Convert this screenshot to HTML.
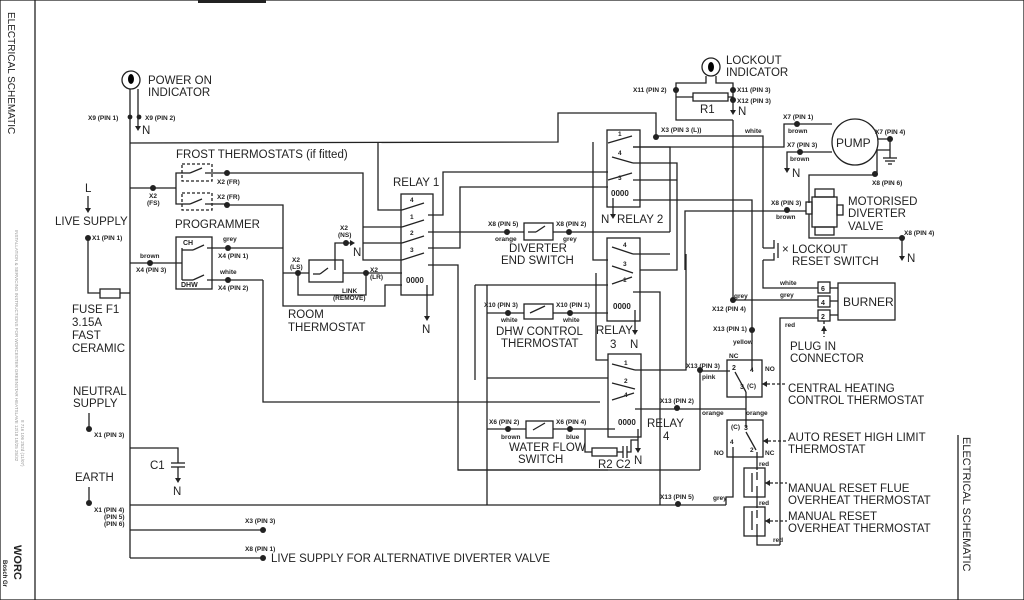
<!DOCTYPE html>
<html><head><meta charset="utf-8"><style>
html,body{margin:0;padding:0;background:#fff;}
svg{display:block;font-family:"Liberation Sans",sans-serif;}
.t{font-size:11.5px;fill:#222;}
.s{font-size:6.5px;fill:#222;font-weight:bold;}
line,polyline,rect,circle,path{stroke:#222;stroke-width:1.3;fill:none;}
.d{fill:#222;stroke:none;}
.dash{stroke-dasharray:3,2;}
</style></head><body>
<svg width="1024" height="600" viewBox="0 0 1024 600">
<rect x="0" y="0" width="1024" height="600" fill="#fff" stroke="none"/>
<line x1="35" y1="0" x2="35" y2="600"/>
<text class="t" transform="translate(8,12) rotate(90)" style="font-size:10px">ELECTRICAL SCHEMATIC</text>
<text transform="translate(15,230) rotate(90)" style="font-size:4.5px;fill:#999">INSTALLATION &amp; SERVICING INSTRUCTIONS FOR WORCESTER GREENSTAR HEATSLAVE 12/18 18/25 25/32</text>
<text transform="translate(21,420) rotate(90)" style="font-size:4.5px;fill:#999">8 716 106 252d (11/07)</text>
<text transform="translate(14,545) rotate(90)" style="font-size:11px;font-weight:bold;fill:#222">WORC</text>
<text transform="translate(3,560) rotate(90)" style="font-size:6px;font-weight:bold;fill:#222">Bosch Gr</text>
<rect x="198" y="0" width="68" height="3" class="d"/>
<line x1="958" y1="435" x2="958" y2="600"/>
<text class="t" transform="translate(963,437) rotate(90)" style="font-size:11px">ELECTRICAL SCHEMATIC</text>

<circle cx="131" cy="80" r="9"/><ellipse cx="131" cy="79" rx="3" ry="5"/>
<text class="t" x="148" y="84">POWER ON</text><text class="t" x="148" y="96">INDICATOR</text>
<line x1="130" y1="89" x2="130" y2="558"/>
<line x1="138" y1="89" x2="138" y2="128"/><path d="M135,126 L141,126 L138,131Z" class="d"/>
<text class="t" x="142" y="134">N</text>
<circle cx="130" cy="117" r="2.4" class="d"/><circle cx="139" cy="117" r="2.4" class="d"/>
<text class="s" x="88" y="120">X9 (PIN 1)</text><text class="s" x="145" y="120">X9 (PIN 2)</text>

<polyline points="130,143 558,142 558,113 656,113 656,137"/>
<circle cx="656" cy="137" r="3" class="d"/>
<text class="s" x="661" y="132">X3 (PIN 3 (L))</text>
<polyline points="656,136 763,136 763,248"/>
<text class="s" x="745" y="133">white</text>
<polyline points="378,143 378,210 402,210"/>

<text class="t" x="85" y="192">L</text>
<line x1="88" y1="196" x2="88" y2="210"/><path d="M85,208 L91,208 L88,213Z" class="d"/>
<text class="t" x="55" y="225">LIVE SUPPLY</text>
<circle cx="88" cy="238" r="3" class="d"/><text class="s" x="92" y="240">X1 (PIN 1)</text>
<polyline points="88,238 88,293 100,293"/>
<rect x="100" y="289" width="20" height="9"/><line x1="120" y1="293" x2="130" y2="293"/>
<text class="t" x="72" y="313">FUSE F1</text><text class="t" x="72" y="326">3.15A</text>
<text class="t" x="72" y="339">FAST</text><text class="t" x="72" y="352">CERAMIC</text>
<text class="t" x="73" y="395">NEUTRAL</text><text class="t" x="73" y="407">SUPPLY</text>
<line x1="89" y1="413" x2="89" y2="428"/><circle cx="89" cy="429" r="3" class="d"/>
<text class="s" x="94" y="437">X1 (PIN 3)</text>
<text class="t" x="75" y="481">EARTH</text>
<line x1="89" y1="487" x2="89" y2="502"/><circle cx="89" cy="503" r="3" class="d"/>
<text class="s" x="94" y="512">X1 (PIN 4)</text><text class="s" x="104" y="519">(PIN 5)</text><text class="s" x="104" y="526">(PIN 6)</text>

<polyline points="130,448 178,448 178,463"/>
<line x1="171" y1="463" x2="185" y2="463"/><line x1="171" y1="467" x2="185" y2="467"/>
<line x1="178" y1="467" x2="178" y2="480"/><path d="M175,478 L181,478 L178,483Z" class="d"/>
<text class="t" x="150" y="469">C1</text><text class="t" x="173" y="495">N</text>

<line x1="130" y1="505" x2="726" y2="505"/>
<line x1="130" y1="530" x2="263" y2="530"/><circle cx="263" cy="530" r="3" class="d"/>
<text class="s" x="245" y="523">X3 (PIN 3)</text>
<line x1="130" y1="558" x2="263" y2="558"/><circle cx="263" cy="558" r="3" class="d"/>
<text class="s" x="245" y="551">X8 (PIN 1)</text>
<text class="t" x="271" y="562">LIVE SUPPLY FOR ALTERNATIVE DIVERTER VALVE</text>

<text class="t" x="176" y="158">FROST THERMOSTATS (if fitted)</text>
<polyline points="130,188 176,188"/><circle cx="153" cy="188" r="3" class="d"/>
<text class="s" x="149" y="198">X2</text><text class="s" x="147" y="205">(FS)</text>
<polyline points="182,173 176,173 176,204 182,204"/>
<rect x="182" y="164" width="30" height="17" class="dash"/>
<rect x="182" y="193" width="30" height="17" class="dash"/>
<line x1="182" y1="173" x2="190" y2="173"/><line x1="190" y1="173" x2="202" y2="168"/><line x1="205" y1="173" x2="228" y2="173"/>
<line x1="182" y1="204" x2="190" y2="204"/><line x1="190" y1="204" x2="202" y2="199"/><line x1="205" y1="204" x2="228" y2="204"/>
<circle cx="227" cy="173" r="3" class="d"/><circle cx="227" cy="205" r="3" class="d"/>
<text class="s" x="217" y="184">X2 (FR)</text><text class="s" x="217" y="199">X2 (FR)</text>
<polyline points="227,173 363,173 363,260 402,260"/>
<line x1="363" y1="227" x2="402" y2="227"/><line x1="363" y1="243" x2="402" y2="243"/>
<polyline points="227,205 283,205 283,306 385,306 385,285 402,285"/>

<text class="t" x="175" y="228">PROGRAMMER</text>
<rect x="176" y="237" width="36" height="52"/>
<text class="s" x="183" y="245" style="font-size:7px">CH</text><text class="s" x="181" y="287" style="font-size:7px">DHW</text>
<line x1="130" y1="263" x2="182" y2="263"/><circle cx="150" cy="263" r="3" class="d"/>
<text class="s" x="140" y="258">brown</text><text class="s" x="136" y="272">X4 (PIN 3)</text>
<polyline points="182,248 182,280"/>
<line x1="182" y1="250" x2="193" y2="250"/><line x1="193" y1="250" x2="204" y2="245"/><line x1="207" y1="248" x2="283" y2="248"/>
<line x1="182" y1="280" x2="193" y2="280"/><line x1="193" y1="280" x2="204" y2="275"/><line x1="207" y1="280" x2="263" y2="280"/>
<circle cx="228" cy="248" r="3" class="d"/><circle cx="228" cy="280" r="3" class="d"/>
<text class="s" x="223" y="241">grey</text><text class="s" x="218" y="258">X4 (PIN 1)</text>
<text class="s" x="220" y="274">white</text><text class="s" x="218" y="290">X4 (PIN 2)</text>
<polyline points="263,280 263,402 600,402"/>

<line x1="283" y1="273" x2="309" y2="273"/>
<rect x="309" y="260" width="34" height="22"/>
<line x1="313" y1="274" x2="320" y2="274"/><line x1="320" y1="274" x2="328" y2="268"/>
<circle cx="298" cy="273" r="3" class="d"/><circle cx="366" cy="273" r="3" class="d"/>
<line x1="343" y1="273" x2="402" y2="273"/>
<polyline points="335,270 335,243 350,243"/><path d="M350,240 L355,243 L350,246Z" class="d"/>
<circle cx="346" cy="243" r="3" class="d"/>
<text class="s" x="340" y="230">X2</text><text class="s" x="338" y="237">(NS)</text><text class="t" x="353" y="256">N</text>
<text class="s" x="292" y="262">X2</text><text class="s" x="290" y="269">(LS)</text>
<text class="s" x="370" y="272">X2</text><text class="s" x="370" y="279">(LR)</text>
<polyline points="298,273 298,295 366,295 366,273"/>
<text class="s" x="342" y="293">LINK</text><text class="s" x="333" y="300">(REMOVE)</text>
<text class="t" x="288" y="318">ROOM</text><text class="t" x="288" y="331">THERMOSTAT</text>

<text class="t" x="393" y="186">RELAY 1</text>
<rect x="401" y="194" width="32" height="101"/>
<line x1="402" y1="210" x2="424" y2="203"/><line x1="402" y1="227" x2="424" y2="220"/>
<line x1="402" y1="243" x2="424" y2="236"/><line x1="402" y1="260" x2="424" y2="253"/>
<text class="s" x="410" y="202">4</text><text class="s" x="410" y="219">1</text><text class="s" x="410" y="235">2</text><text class="s" x="410" y="252">3</text>
<text class="s" x="406" y="283" style="font-size:8px">0000</text>
<line x1="427" y1="285" x2="427" y2="318"/><path d="M424,316 L430,316 L427,321Z" class="d"/>
<text class="t" x="422" y="333">N</text>
<polyline points="428,215 443,215 443,172 608,172"/>
<line x1="428" y1="232" x2="506" y2="232"/>
<polyline points="428,248 460,248 460,187 608,187"/>
<polyline points="428,265 458,265 458,470 608,470"/>

<rect x="524" y="223" width="29" height="17"/>
<line x1="506" y1="232" x2="524" y2="232"/><line x1="528" y1="232" x2="536" y2="232"/><line x1="536" y1="232" x2="545" y2="226"/>
<line x1="553" y1="232" x2="670" y2="232"/>
<circle cx="507" cy="232" r="3" class="d"/><circle cx="569" cy="232" r="3" class="d"/>
<text class="s" x="488" y="226">X8 (PIN 5)</text><text class="s" x="556" y="226">X8 (PIN 2)</text>
<text class="s" x="495" y="241">orange</text><text class="s" x="563" y="241">grey</text>
<text class="t" x="509" y="252">DIVERTER</text><text class="t" x="501" y="264">END SWITCH</text>

<rect x="607" y="130" width="33" height="77"/>
<line x1="608" y1="143" x2="632" y2="136"/><line x1="612" y1="157" x2="633" y2="163"/>
<line x1="608" y1="180" x2="632" y2="173"/>
<text class="s" x="618" y="136">1</text><text class="s" x="618" y="155">4</text><text class="s" x="618" y="180">3</text>
<text class="s" x="611" y="196" style="font-size:8px">0000</text>
<line x1="613" y1="198" x2="613" y2="217"/><path d="M610,214 L616,214 L613,219Z" class="d"/>
<text class="t" x="601" y="223">N</text><text class="t" x="617" y="223">RELAY 2</text>
<polyline points="633,147 670,147 670,232"/>
<polyline points="633,163 677,163 677,270 640,270"/>
<polyline points="633,180 677,180"/>
<polyline points="633,200 752,200 752,330"/>

<rect x="607" y="238" width="33" height="83"/>
<line x1="612" y1="247" x2="633" y2="254"/><line x1="612" y1="266" x2="633" y2="273"/>
<line x1="612" y1="284" x2="632" y2="277"/>
<text class="s" x="623" y="247">4</text><text class="s" x="623" y="266">3</text><text class="s" x="623" y="282">1</text>
<polyline points="633,254 670,254"/>
<polyline points="593,142 593,260 608,260"/>
<polyline points="596,273 596,360 608,360"/>
<line x1="475" y1="285" x2="608" y2="285"/>
<line x1="475" y1="285" x2="475" y2="380"/>
<text class="s" x="613" y="309" style="font-size:8px">0000</text>
<polyline points="633,292 660,292 660,505"/>
<line x1="635" y1="310" x2="635" y2="332"/><path d="M632,330 L638,330 L635,335Z" class="d"/>
<text class="t" x="596" y="334">RELAY</text><text class="t" x="610" y="348">3</text><text class="t" x="630" y="348">N</text>

<rect x="524" y="304" width="29" height="15"/>
<line x1="487" y1="313" x2="524" y2="313"/><line x1="553" y1="313" x2="608" y2="313"/>
<line x1="530" y1="313" x2="545" y2="306"/>
<circle cx="508" cy="313" r="3" class="d"/><circle cx="570" cy="313" r="3" class="d"/>
<text class="s" x="484" y="307">X10 (PIN 3)</text><text class="s" x="556" y="307">X10 (PIN 1)</text>
<text class="s" x="501" y="322">white</text><text class="s" x="563" y="322">white</text>
<text class="t" x="496" y="335">DHW CONTROL</text><text class="t" x="501" y="347">THERMOSTAT</text>
<line x1="487" y1="285" x2="487" y2="505"/>

<rect x="608" y="354" width="33" height="83"/>
<line x1="612" y1="364" x2="635" y2="370"/><line x1="612" y1="383" x2="635" y2="389"/>
<line x1="612" y1="400" x2="634" y2="393"/>
<text class="s" x="624" y="365">1</text><text class="s" x="624" y="383">2</text><text class="s" x="624" y="397">4</text>
<polyline points="635,370 686,370 686,254"/>
<line x1="487" y1="378" x2="608" y2="378"/>
<line x1="458" y1="470" x2="700" y2="470"/>
<line x1="635" y1="409" x2="726" y2="409"/>
<text class="s" x="618" y="425" style="font-size:8px">0000</text>
<text class="t" x="647" y="427">RELAY</text><text class="t" x="663" y="440">4</text>
<line x1="638" y1="429" x2="638" y2="450"/><path d="M635,448 L641,448 L638,453Z" class="d"/>
<text class="t" x="634" y="464">N</text>
<polyline points="780,320 780,545"/>

<rect x="526" y="421" width="27" height="17"/>
<line x1="487" y1="429" x2="526" y2="429"/><line x1="553" y1="429" x2="615" y2="429"/>
<line x1="533" y1="430" x2="545" y2="423"/>
<circle cx="508" cy="429" r="3" class="d"/><circle cx="570" cy="429" r="3" class="d"/>
<text class="s" x="489" y="424">X6 (PIN 2)</text><text class="s" x="556" y="424">X6 (PIN 4)</text>
<text class="s" x="501" y="439">brown</text><text class="s" x="566" y="439">blue</text>
<text class="t" x="509" y="451">WATER FLOW</text><text class="t" x="518" y="463">SWITCH</text>
<polyline points="585,429 585,452 592,452"/>
<rect x="592" y="448" width="25" height="8"/>
<line x1="617" y1="452" x2="623" y2="452"/><line x1="623" y1="446" x2="623" y2="458"/><line x1="627" y1="446" x2="627" y2="458"/>
<polyline points="627,452 631,452 631,440 638,440"/>
<text class="t" x="598" y="468">R2 C2</text>

<circle cx="711" cy="67" r="9"/><ellipse cx="711" cy="67" rx="3" ry="5"/>
<text class="t" x="726" y="64">LOCKOUT</text><text class="t" x="726" y="76">INDICATOR</text>
<polyline points="706,76 706,83 676,83 676,120 733,120"/>
<polyline points="716,76 716,83 733,83 733,112"/><path d="M730,110 L736,110 L733,115Z" class="d"/>
<rect x="693" y="93" width="35" height="8"/>
<line x1="676" y1="97" x2="693" y2="97"/><line x1="728" y1="97" x2="733" y2="97"/>
<circle cx="676" cy="90" r="3" class="d"/><circle cx="733" cy="90" r="3" class="d"/><circle cx="733" cy="100" r="3" class="d"/>
<text class="s" x="633" y="92">X11 (PIN 2)</text><text class="s" x="737" y="92">X11 (PIN 3)</text><text class="s" x="737" y="103">X12 (PIN 3)</text>
<text class="t" x="700" y="113">R1</text><text class="t" x="738" y="115">N</text>
<polyline points="733,120 733,300"/>

<circle cx="855" cy="142" r="23"/><text class="t" x="836" y="147" style="font-size:12px">PUMP</text>
<polyline points="633,147 784,147 784,124 832,124"/>
<circle cx="797" cy="124" r="3" class="d"/>
<text class="s" x="783" y="119">X7 (PIN 1)</text><text class="s" x="788" y="133">brown</text>
<polyline points="832,152 787,152 787,170"/><path d="M784,168 L790,168 L787,173Z" class="d"/>
<circle cx="800" cy="152" r="3" class="d"/>
<text class="s" x="787" y="147">X7 (PIN 3)</text><text class="s" x="790" y="161">brown</text><text class="t" x="792" y="177">N</text>
<polyline points="878,139 890,139 890,158"/><circle cx="890" cy="139" r="3" class="d"/>
<line x1="883" y1="158" x2="897" y2="158"/><line x1="885" y1="161" x2="895" y2="161"/><line x1="888" y1="164" x2="892" y2="164"/>
<text class="s" x="875" y="134">X7 (PIN 4)</text>
<polyline points="890,150 877,150 877,175 809,175 809,203"/><circle cx="875" cy="174" r="3" class="d"/>
<text class="s" x="872" y="185">X8 (PIN 6)</text>
<rect x="815" y="189" width="19" height="8"/><rect x="815" y="227" width="19" height="8"/>
<rect x="812" y="197" width="25" height="30"/>
<rect x="806" y="202" width="6" height="12"/><rect x="837" y="205" width="6" height="10"/>
<text class="t" x="848" y="205">MOTORISED</text><text class="t" x="848" y="217">DIVERTER</text><text class="t" x="848" y="230">VALVE</text>
<polyline points="685,270 685,211 806,211"/><circle cx="787" cy="210" r="3" class="d"/>
<text class="s" x="771" y="205">X8 (PIN 3)</text><text class="s" x="776" y="219">brown</text>
<polyline points="809,214 809,238 902,238 902,258"/><circle cx="902" cy="238" r="3" class="d"/>
<path d="M899,256 L905,256 L902,261Z" class="d"/><text class="t" x="907" y="262">N</text>
<text class="s" x="904" y="235">X8 (PIN 4)</text>
<polyline points="763,248 774,248 774,240"/><polyline points="763,260 774,260 774,253"/>
<line x1="778" y1="243" x2="778" y2="258"/>
<text class="t" x="782" y="253">×</text>
<text class="t" x="792" y="253">LOCKOUT</text><text class="t" x="792" y="265">RESET SWITCH</text>
<polyline points="763,260 763,288 818,288"/>
<text class="s" x="780" y="285">white</text>
<line x1="733" y1="300" x2="818" y2="300"/><circle cx="733" cy="300" r="3" class="d"/>
<text class="s" x="734" y="298">grey</text><text class="s" x="780" y="297">grey</text>
<text class="s" x="712" y="311">X12 (PIN 4)</text>
<rect x="818" y="282" width="12" height="11"/><rect x="818" y="296" width="12" height="11"/><rect x="818" y="310" width="12" height="11"/>
<text class="s" x="821" y="291" style="font-size:7px">6</text><text class="s" x="821" y="305" style="font-size:7px">4</text><text class="s" x="821" y="319" style="font-size:7px">2</text>
<rect x="838" y="283" width="57" height="37"/>
<line x1="830" y1="288" x2="838" y2="288"/><line x1="830" y1="301" x2="838" y2="301"/><line x1="830" y1="315" x2="838" y2="315"/>
<text class="t" x="843" y="306" style="font-size:12px">BURNER</text>
<polyline points="818,318 780,318 780,320"/><text class="s" x="785" y="327">red</text>
<line x1="824" y1="321" x2="824" y2="337" class="dash"/><path d="M821,331 L827,331 L824,326Z" class="d"/>
<text class="t" x="790" y="350">PLUG IN</text><text class="t" x="790" y="362">CONNECTOR</text>
<circle cx="752" cy="330" r="3" class="d"/>
<text class="s" x="713" y="331">X13 (PIN 1)</text><text class="s" x="733" y="344">yellow</text>
<line x1="752" y1="330" x2="752" y2="370"/>
<rect x="727" y="360" width="35" height="37"/>
<text class="s" x="729" y="358">NC</text><text class="s" x="732" y="370" style="font-size:7px">2</text>
<text class="s" x="750" y="372">4</text><text class="s" x="765" y="371">NO</text>
<text class="s" x="740" y="389" style="font-size:7px">3</text><text class="s" x="747" y="388">(C)</text>
<line x1="735" y1="372" x2="746" y2="392"/>
<polyline points="700,370 700,371 730,371"/><circle cx="700" cy="370" r="3" class="d"/>
<text class="s" x="686" y="368">X13 (PIN 3)</text><text class="s" x="702" y="379">pink</text>
<line x1="700" y1="370" x2="700" y2="470"/>
<line x1="762" y1="384" x2="787" y2="384" class="dash"/><path d="M762,384 L767,381 L767,387Z" class="d"/>
<text class="t" x="788" y="392">CENTRAL HEATING</text><text class="t" x="788" y="404">CONTROL THERMOSTAT</text>
<polyline points="746,392 746,409 726,409 746,409 746,428"/>
<circle cx="677" cy="408" r="3" class="d"/>
<text class="s" x="660" y="403">X13 (PIN 2)</text><text class="s" x="702" y="415">orange</text><text class="s" x="746" y="415">orange</text>
<rect x="727" y="420" width="36" height="37"/>
<text class="s" x="731" y="429">(C)</text><text class="s" x="744" y="430" style="font-size:7px">3</text>
<line x1="746" y1="432" x2="756" y2="450"/>
<text class="s" x="714" y="455">NO</text><text class="s" x="730" y="444">4</text><text class="s" x="750" y="452">2</text><text class="s" x="765" y="455">NC</text>
<line x1="763" y1="441" x2="787" y2="441" class="dash"/><path d="M763,441 L768,438 L768,444Z" class="d"/>
<text class="t" x="788" y="441">AUTO RESET HIGH LIMIT</text><text class="t" x="788" y="453">THERMOSTAT</text>
<polyline points="733,447 733,497 726,497 726,505"/>
<text class="s" x="713" y="500">grey</text>
<circle cx="678" cy="504" r="3" class="d"/><text class="s" x="660" y="499">X13 (PIN 5)</text>
<line x1="757" y1="452" x2="757" y2="470"/><text class="s" x="759" y="466">red</text>
<rect x="744" y="468" width="21" height="29"/>
<line x1="752" y1="473" x2="752" y2="492"/><line x1="757" y1="472" x2="757" y2="480"/><line x1="757" y1="486" x2="757" y2="497"/>
<line x1="765" y1="483" x2="787" y2="483" class="dash"/><path d="M765,483 L770,480 L770,486Z" class="d"/>
<text class="t" x="788" y="492">MANUAL RESET FLUE</text><text class="t" x="788" y="504">OVERHEAT THERMOSTAT</text>
<line x1="757" y1="497" x2="757" y2="508"/><text class="s" x="759" y="505">red</text>
<rect x="744" y="507" width="21" height="29"/>
<line x1="752" y1="511" x2="752" y2="530"/><line x1="757" y1="510" x2="757" y2="518"/><line x1="757" y1="524" x2="757" y2="536"/>
<line x1="765" y1="521" x2="787" y2="521" class="dash"/><path d="M765,521 L770,518 L770,524Z" class="d"/>
<text class="t" x="788" y="520">MANUAL RESET</text><text class="t" x="788" y="532">OVERHEAT THERMOSTAT</text>
<polyline points="757,536 757,545 780,545"/><text class="s" x="773" y="542">red</text>
</svg>
</body></html>
